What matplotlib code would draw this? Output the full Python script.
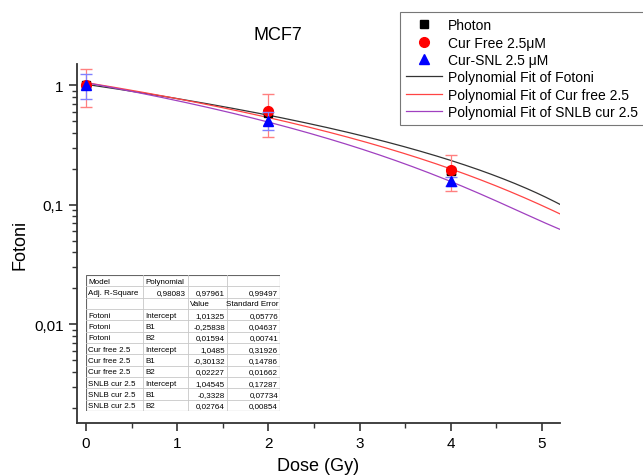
import numpy as np
import matplotlib
matplotlib.use('Agg')
import matplotlib.pyplot as plt
from matplotlib.lines import Line2D
from matplotlib.ticker import FixedLocator, FuncFormatter, LogLocator, NullFormatter

plt.rcParams['font.family'] = ['Liberation Sans', 'DejaVu Sans']

# measured points
dose = [0, 2, 4]
photon = [1.0, 0.58, 0.19]
photon_err = [0.02, 0.02, 0.01]
cur_free = [1.0, 0.61, 0.196]
cur_free_err = [0.35, 0.24, 0.066]
cur_snl = [1.0, 0.505, 0.158]
cur_snl_err = [0.24, 0.085, 0.014]

# polynomial fit coefficients (Intercept, B1, B2) from the table
fit_fotoni = [1.01325, -0.25838, 0.01594]
fit_curfree = [1.0485, -0.30132, 0.02227]
fit_snlb = [1.04545, -0.3328, 0.02764]
adj_r2 = ['0,98083', '0,97961', '0,99497']
se_fotoni = ['0,05776', '0,04637', '0,00741']
se_curfree = ['0,31926', '0,14786', '0,01662']
se_snlb = ['0,17287', '0,07734', '0,00854']

fig = plt.figure(figsize=(6.43, 4.77), dpi=100)
W, H = 643, 477
ax = fig.add_axes([77 / W, 1 - 424 / H, (560 - 77) / W, (424 - 65) / H])

xs = np.linspace(0, 5.2, 200)
def poly(c, x):
    return c[0] + c[1] * x + c[2] * x ** 2

ax.plot(xs, poly(fit_fotoni, xs), color='#333333', lw=0.9, zorder=2)
ax.plot(xs, poly(fit_curfree, xs), color='#ff4444', lw=0.9, zorder=2)
ax.plot(xs, poly(fit_snlb, xs), color='#a040c0', lw=0.9, zorder=2)

ax.errorbar(dose, photon, yerr=photon_err, fmt='s', color='black', ms=6,
            ecolor='#888888', elinewidth=0.8, capsize=3.5, zorder=3)
ax.errorbar(dose, cur_free, yerr=cur_free_err, fmt='o', color='red', ms=7,
            ecolor='#ff8080', elinewidth=0.9, capsize=4, zorder=4)
ax.errorbar(dose, cur_snl, yerr=cur_snl_err, fmt='^', color='blue', ms=7,
            ecolor='#8080ff', elinewidth=0.9, capsize=4, zorder=5)

ax.set_yscale('log')
ax.set_xlim(-0.1, 5.2)
ax.set_ylim(0.0015, 1.5)
ax.xaxis.set_major_locator(FixedLocator([0, 1, 2, 3, 4, 5]))
ax.xaxis.set_minor_locator(FixedLocator([0.5, 1.5, 2.5, 3.5, 4.5]))
ax.yaxis.set_major_locator(FixedLocator([0.01, 0.1, 1]))
ax.yaxis.set_minor_locator(LogLocator(base=10, subs=np.arange(2, 10)))
ax.yaxis.set_minor_formatter(NullFormatter())
ax.yaxis.set_major_formatter(FuncFormatter(lambda v, p: {0.01: '0,01', 0.1: '0,1', 1: '1'}.get(round(v, 4), '')))
ax.spines['top'].set_visible(False)
ax.spines['right'].set_visible(False)
for s in ['left', 'bottom']:
    ax.spines[s].set_linewidth(1.3)
    ax.spines[s].set_color('#333333')
ax.tick_params(which='major', direction='out', length=6, width=1.2, labelsize=11, color='#333333')
ax.tick_params(which='minor', direction='out', length=3.5, width=1.0, color='#333333')
ax.set_xlabel('Dose (Gy)', fontsize=13, labelpad=5)
ax.set_ylabel('Fotoni', fontsize=13, labelpad=4)
fig.text(278 / W, 1 - 36 / H, 'MCF7', fontsize=13, ha='center', va='center')

handles = [
    Line2D([], [], marker='s', color='black', ls='none', ms=6),
    Line2D([], [], marker='o', color='red', ls='none', ms=7),
    Line2D([], [], marker='^', color='blue', ls='none', ms=7),
    Line2D([], [], color='#333333', lw=0.9),
    Line2D([], [], color='#ff4444', lw=0.9),
    Line2D([], [], color='#a040c0', lw=0.9),
]
labels = ['Photon', 'Cur Free 2.5\u03bcM', 'Cur-SNL 2.5 \u03bcM',
          'Polynomial Fit of Fotoni', 'Polynomial Fit of Cur free 2.5',
          'Polynomial Fit of SNLB cur 2.5']
leg = fig.legend(handles, labels, loc='upper left', bbox_to_anchor=(400 / W, 1 - 13 / H),
                 fontsize=10, frameon=True, fancybox=False, edgecolor='#555555',
                 labelspacing=0.24, handlelength=2.6, handletextpad=0.4, borderpad=0.45,
                 borderaxespad=0)
leg.get_frame().set_linewidth(0.8)

# fit results table
tab = fig.add_axes([86 / W, 1 - 412 / H, (280 - 86) / W, (412 - 276) / H])
tab.set_xlim(0, 194)
tab.set_ylim(12, 0)
tab.axis('off')
cols = [0, 57, 102, 141, 194]
rows = [
    ['Model', 'Polynomial', '', ''],
    ['Adj. R-Square'] + adj_r2,
    ['', '', 'Value', 'Standard Error'],
]
for name, c, se in [('Fotoni', fit_fotoni, se_fotoni), ('Cur free 2.5', fit_curfree, se_curfree),
                    ('SNLB cur 2.5', fit_snlb, se_snlb)]:
    for term, v, e in zip(['Intercept', 'B1', 'B2'], c, se):
        rows.append([name, term, ('%g' % v).replace('.', ','), e])
tab.add_patch(plt.Rectangle((0, 0), 194, 12, fill=True, facecolor='white', edgecolor='#666666', lw=0.8))
for i in range(1, 12):
    tab.plot([0, 194], [i, i], color='#c8c8c8', lw=0.6)
for cx in cols[1:-1]:
    tab.plot([cx, cx], [0, 12], color='#c8c8c8', lw=0.6)
for i, r in enumerate(rows):
    for j, t in enumerate(r):
        if j == 0 or (j == 1 and i != 1) or (i == 2 and j == 2):
            tab.text(cols[j] + 2, i + 0.55, t, fontsize=5.8, ha='left', va='center')
        else:
            tab.text(cols[j + 1] - 2, i + 0.55, t, fontsize=5.8, ha='right', va='center')

fig.savefig('out.png', dpi=100)
